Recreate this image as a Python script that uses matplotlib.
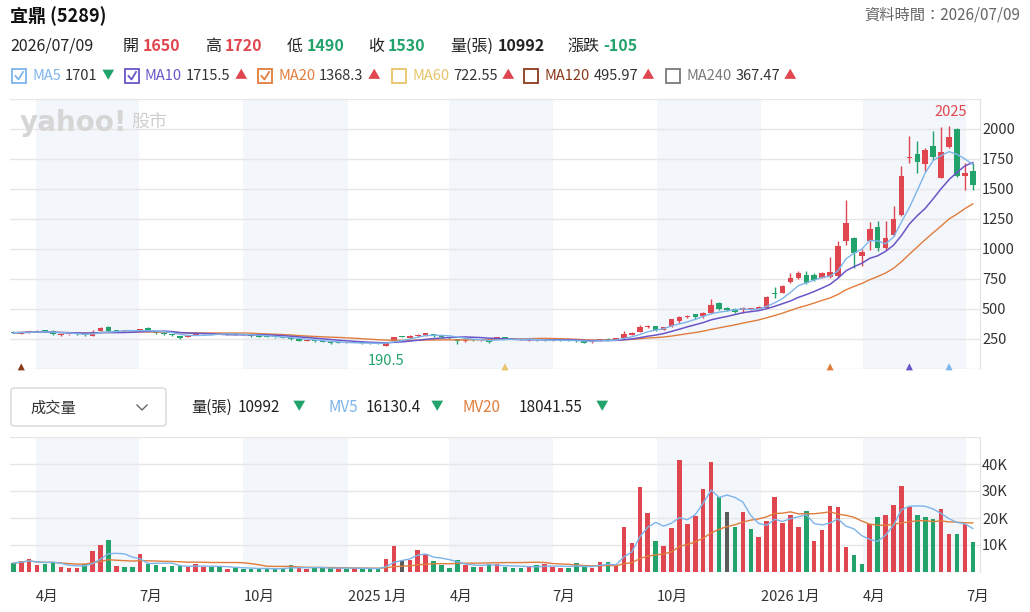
import matplotlib
matplotlib.use('Agg')
import matplotlib.pyplot as plt
import matplotlib.dates as mdates
from matplotlib.patches import Rectangle, FancyBboxPatch
from matplotlib.lines import Line2D
import pandas as pd

plt.rcParams['font.family'] = ['Noto Sans CJK TC', 'DejaVu Sans']

# weekly candles, 宜鼎 (5289)
weeks = pd.date_range('2024-03-12', periods=122, freq='7D')

opens = [312, 295, 306, 308, 316, 316, 285, 289, 294, 292,
         278, 318, 352, 317, 313, 316, 320, 340, 308, 299,
         290, 272, 268, 285, 292, 295, 292, 293, 290, 288,
         282, 274, 270, 268, 262, 258, 248, 233, 234, 231,
         226, 218, 216, 218, 218, 216, 217, 195, 236, 272,
         262, 274, 282, 292, 280, 260, 240, 233, 243, 240,
         238, 253, 262, 253, 245, 240, 242, 240, 238, 240,
         238, 236, 235, 222, 236, 253, 245, 255, 285, 312,
         352, 358, 326, 358, 400, 432, 455, 440, 468, 548,
         512, 500, 490, 500, 502, 510, 636, 635, 727, 755,
         782, 783, 762, 768, 772, 1065, 1095, 940, 1065, 1183,
         1005, 1115, 1285, 1755, 1795, 1710, 1860, 1595, 1848, 2000,
         1610, 1650]
highs = [316, 310, 313, 322, 320, 321, 293, 295, 297, 295,
         324, 346, 359, 320, 319, 319, 337, 346, 311, 302,
         294, 275, 283, 295, 298, 297, 296, 295, 292, 290,
         285, 277, 272, 270, 264, 260, 250, 243, 238, 234,
         228, 221, 221, 220, 220, 218, 219, 228, 270, 277,
         280, 289, 300, 295, 282, 263, 244, 246, 246, 244,
         241, 266, 265, 256, 247, 244, 244, 242, 242, 242,
         240, 238, 237, 237, 254, 256, 258, 314, 305, 364,
         365, 362, 352, 420, 445, 448, 460, 478, 580, 562,
         518, 505, 515, 508, 528, 605, 686, 700, 800, 820,
         818, 800, 810, 930, 1069, 1405, 1100, 1002, 1222, 1230,
         1236, 1360, 1695, 1940, 1900, 1845, 1985, 2015, 2025, 2010,
         1715, 1720]
lows = [298, 292, 303, 305, 309, 287, 279, 286, 287, 276,
        274, 315, 311, 310, 310, 310, 316, 317, 292, 285,
        277, 250, 265, 282, 289, 289, 289, 287, 285, 282,
        270, 267, 264, 260, 255, 245, 234, 230, 228, 226,
        212, 213, 214, 213, 212, 211, 205, 190.5, 232, 265,
        258, 270, 279, 270, 262, 254, 205, 229, 237, 236,
        218, 250, 250, 248, 238, 237, 237, 235, 236, 235,
        233, 228, 218, 219, 233, 240, 242, 250, 280, 308,
        345, 318, 322, 352, 383, 425, 420, 424, 462, 488,
        485, 465, 468, 494, 498, 505, 592, 630, 720, 748,
        705, 735, 755, 760, 765, 1030, 841, 855, 990, 985,
        990, 1110, 1275, 1720, 1630, 1650, 1740, 1590, 1838, 1600,
        1492, 1490]
closes = [302, 306, 309, 318, 312, 291, 290, 293, 290, 280,
          312, 338, 318, 314, 316, 313, 333, 322, 296, 288,
          280, 256, 280, 292, 295, 292, 293, 290, 288, 285,
          273, 270, 267, 263, 258, 248, 237, 240, 230, 229,
          215, 216, 218, 216, 215, 214, 208, 225, 267, 268,
          276, 286, 296, 276, 266, 257, 236, 243, 240, 241,
          225, 262, 253, 252, 240, 242, 240, 238, 240, 238,
          236, 231, 220, 235, 252, 243, 255, 290, 300, 348,
          358, 324, 348, 415, 435, 440, 432, 468, 530, 496,
          492, 478, 508, 502, 520, 600, 626, 690, 755, 800,
          720, 740, 797, 810, 1027, 1215, 970, 975, 1170, 1008,
          1095, 1250, 1605, 1770, 1722, 1825, 1764, 1812, 1933, 1610,
          1635, 1530]
volumes = [3300, 4000, 5000, 2600, 2900, 3700, 1900, 1500, 1500, 2900,
           7900, 9900, 11800, 2100, 1900, 1900, 6700, 3100, 2600, 1900,
           2100, 2100, 1900, 2900, 1900, 1900, 1900, 1200, 1700, 1200,
           1200, 1200, 1200, 1200, 1500, 2600, 1500, 1200, 1500, 1500,
           1500, 1500, 1200, 1500, 1200, 1200, 1200, 4800, 9500, 4500,
           4300, 8200, 6700, 3900, 2600, 1500, 4300, 2600, 1900, 1900,
           3000, 3000, 1900, 1500, 1500, 2200, 2500, 2800, 1900, 1500,
           1500, 3500, 1900, 1500, 3800, 3800, 2200, 16700, 10900, 31300,
           21700, 11400, 9700, 16300, 41500, 17900, 20900, 30900, 40600, 27800,
           22300, 16500, 22300, 15800, 13000, 18900, 27600, 18200, 21000, 16500,
           22600, 11400, 15700, 24600, 23900, 9300, 6400, 3100, 17700, 20200,
           21000, 24800, 31800, 23900, 21000, 20200, 19800, 23500, 14200, 14200,
           17600, 10992]
# r = up, g = down, n = flat (volume colour)
vol_dir = ("grrrggrrrg" "rrgrggrggg" "ggrrrggrgg" "ggggggrrgg" "grgrgggrrn"
           "rrrggggrgr" "grgggrgrrr" "gggrrgrrrr" "rgrrrrrrrg" "ngrgrrrrrr"
           "grrrrrggrg" "rrrrgggrrg" "rg")

month_ticks = ['2024-04-01', '2024-07-01', '2024-10-01', '2025-01-01', '2025-04-01',
               '2025-07-01', '2025-10-01', '2026-01-01', '2026-04-01', '2026-07-01']
month_labels = ['4月', '7月', '10月', '2025 1月', '4月', '7月', '10月', '2026 1月', '4月', '7月']
shade_ranges = [('2024-04-01', '2024-07-01'), ('2024-10-01', '2025-01-01'),
                ('2025-04-01', '2025-07-01'), ('2025-10-01', '2026-01-01'),
                ('2026-04-01', '2026-07-01')]
signal_weeks = [1, 62, 103, 113, 118]

RED = '#e0464f'
GREEN = '#22a36b'
GRAY = '#5a5a5a'
C_MA5 = '#7db5ea'
C_MA10 = '#6a55c8'
C_MA20 = '#e07d3c'
C_MA60 = '#e9c46a'
C_MA120 = '#8c3a1c'
C_MA240 = '#7a7a7a'

W, H = 1030, 612
fig = plt.figure(figsize=(W / 100, H / 100), dpi=100)


def fx(x):
    return x / W


def fy(y):
    return 1 - y / H


def put(x, y, s, color='#222222', size=11, weight='normal', ha='left'):
    fig.text(fx(x), fy(y), s, color=color, fontsize=size, fontweight=weight,
             ha=ha, va='center')


ax = fig.add_axes([fx(10), fy(369), 970 / W, 270 / H])
axv = fig.add_axes([fx(10), fy(572), 970 / W, 135 / H])

xd = mdates.date2num(weeks)
x0 = mdates.date2num(pd.Timestamp('2024-04-01'))
xlim = (x0 - 26 / 1.1328, x0 + 944 / 1.1328)

for a in (ax, axv):
    for s0, s1 in shade_ranges:
        a.axvspan(mdates.date2num(pd.Timestamp(s0)), mdates.date2num(pd.Timestamp(s1)),
                  color='#f3f6fa', zorder=0, lw=0)
    a.set_xlim(*xlim)
    for sp in ('top', 'left', 'bottom'):
        a.spines[sp].set_visible(False)
    a.spines['right'].set_color('#e4e4e4')
    a.yaxis.tick_right()
    a.tick_params(axis='y', length=0, pad=1.5, labelsize=10.5, labelcolor='#333333')
    a.grid(axis='y', color='#e6e6e6', lw=1, zorder=1)
    a.set_axisbelow(True)

# price panel
ax.set_ylim(0, 2250)
ax.set_yticks(range(0, 2251, 250))
ax.set_yticklabels([''] + [str(v) for v in range(250, 2001, 250)] + [''])
ax.set_xticks([])

cols = [RED if c >= o else GREEN for o, c in zip(opens, closes)]
ax.vlines(xd, lows, highs, colors=cols, lw=1, zorder=3)
bottoms = [min(o, c) for o, c in zip(opens, closes)]
heights = [max(abs(c - o), 10) for o, c in zip(opens, closes)]
ax.bar(xd, heights, bottom=bottoms, width=4.9, color=cols, zorder=3)

close_s = pd.Series(closes)
ax.plot(xd, close_s.rolling(20, min_periods=1).mean(), color=C_MA20, lw=1, zorder=4)
ax.plot(xd, close_s.rolling(10, min_periods=1).mean(), color=C_MA10, lw=1.1, zorder=4)
ax.plot(xd, close_s.rolling(5, min_periods=1).mean(), color=C_MA5, lw=1, zorder=4)

sig_cols = [C_MA120, C_MA60, C_MA20, C_MA10, C_MA5]
ax.scatter([xd[i] for i in signal_weeks], [18] * len(signal_weeks), marker='^', s=26,
           c=sig_cols, zorder=5, clip_on=False, lw=0)

hi = highs.index(max(highs))
lo = lows.index(min(lows))
ax.annotate(f'{max(highs):g}', (xd[hi], highs[hi]), xytext=(1, 5), textcoords='offset points',
            ha='center', va='bottom', color=RED, fontsize=10.5)
ax.annotate(f'{min(lows):g}', (xd[lo], lows[lo]), xytext=(0, -6), textcoords='offset points',
            ha='center', va='top', color=GREEN, fontsize=10.5)

# watermark
ax.text(fx(20), fy(123), 'yahoo!', transform=fig.transFigure, fontsize=20,
        fontweight='heavy', color='#d6d6d6', va='center', ha='left', family='DejaVu Sans')
ax.text(fx(131), fy(123), '股市', transform=fig.transFigure, fontsize=13,
        color='#cfcfcf', va='center', ha='left')

# volume panel
vcols = {'r': RED, 'g': GREEN, 'n': GRAY}
axv.bar(xd, volumes, width=4.0, color=[vcols[d] for d in vol_dir], zorder=3)
vol_s = pd.Series(volumes)
axv.plot(xd, vol_s.rolling(20, min_periods=1).mean(), color=C_MA20, lw=1, zorder=4)
axv.plot(xd, vol_s.rolling(5, min_periods=1).mean(), color=C_MA5, lw=1, zorder=4)
axv.set_ylim(0, 50000)
axv.set_yticks(range(0, 50001, 10000))
axv.set_yticklabels(['', '10K', '20K', '30K', '40K', ''])
axv.set_xticks([mdates.date2num(pd.Timestamp(d)) for d in month_ticks])
axv.set_xticklabels(month_labels)
axv.tick_params(axis='x', length=0, pad=13, labelsize=10.5, labelcolor='#333333')
for lbl in axv.get_xticklabels():
    lbl.set_ha('left')

# header
put(10, 16, '宜鼎 (5289)', size=13, weight='bold', color='#111111')
put(1020, 15, '資料時間：2026/07/09', size=11, color='#666666', ha='right')

row2 = [(10, '2026/07/09', '#222222', 'normal'), (123, '開', '#222222', 'normal'),
        (143, '1650', RED, 'bold'), (205, '高', '#222222', 'normal'),
        (225, '1720', RED, 'bold'), (287, '低', '#222222', 'normal'),
        (307, '1490', GREEN, 'bold'), (368, '收', '#222222', 'normal'),
        (388, '1530', GREEN, 'bold'), (450, '量(張)', '#222222', 'normal'),
        (498, '10992', '#222222', 'bold'), (567, '漲跌', '#222222', 'normal'),
        (603, '-105', GREEN, 'bold')]
for x, s, c, w in row2:
    put(x, 46, s, color=c, size=11.5, weight=w)

ma_items = [(12, 'MA5', '1701', '▼', C_MA5, True),
            (125, 'MA10', '1715.5', '▲', C_MA10, True),
            (258, 'MA20', '1368.3', '▲', C_MA20, True),
            (392, 'MA60', '722.55', '▲', C_MA60, False),
            (524, 'MA120', '495.97', '▲', C_MA120, False),
            (666, 'MA240', '367.47', '▲', C_MA240, False)]
for x, name, val, arrow, c, checked in ma_items:
    fig.patches.append(Rectangle((fx(x), fy(83)), 14 / W, 14 / H, transform=fig.transFigure,
                                 facecolor='white', edgecolor=c, lw=1.3))
    if checked:
        fig.lines.append(Line2D([fx(x + 3.5), fx(x + 6.5), fx(x + 11)],
                                [fy(76), fy(79.5), fy(72)], transform=fig.transFigure,
                                color=c, lw=1.3))
    t = fig.text(fx(x + 20), fy(76), name, color=c, fontsize=10.5, va='center', ha='left')
    fig.canvas.draw()
    bb = t.get_window_extent()
    t2 = fig.text(bb.x1 / W + 4 / W, fy(76), val, color='#333333', fontsize=10.5,
                  va='center', ha='left')
    bb2 = t2.get_window_extent()
    fig.text(bb2.x1 / W + 4 / W, fy(76), arrow, color=GREEN if arrow == '▼' else RED,
             fontsize=9, va='center', ha='left')

# volume header
fig.patches.append(FancyBboxPatch((fx(11), fy(426)), 155 / W, 38 / H,
                                  boxstyle='round,pad=0,rounding_size=0.004',
                                  transform=fig.transFigure, facecolor='white',
                                  edgecolor='#d8d8d8', lw=1))
put(30, 408, '成交量', size=11, color='#333333')
fig.lines.append(Line2D([fx(137), fx(142), fx(147)], [fy(405), fy(410), fy(405)],
                        transform=fig.transFigure, color='#666666', lw=1))
vol_items = [(191, '量(張)', '#222222'), (238, '10992', '#222222'), (293, '▼', GREEN),
             (329, 'MV5', C_MA5), (366, '16130.4', '#222222'), (431, '▼', GREEN),
             (463, 'MV20', C_MA20), (519, '18041.55', '#222222'), (596, '▼', GREEN)]
for x, s, c in vol_items:
    put(x, 407, s, color=c, size=9 if s == '▼' else 11)

fig.savefig('out.png', dpi=100)
